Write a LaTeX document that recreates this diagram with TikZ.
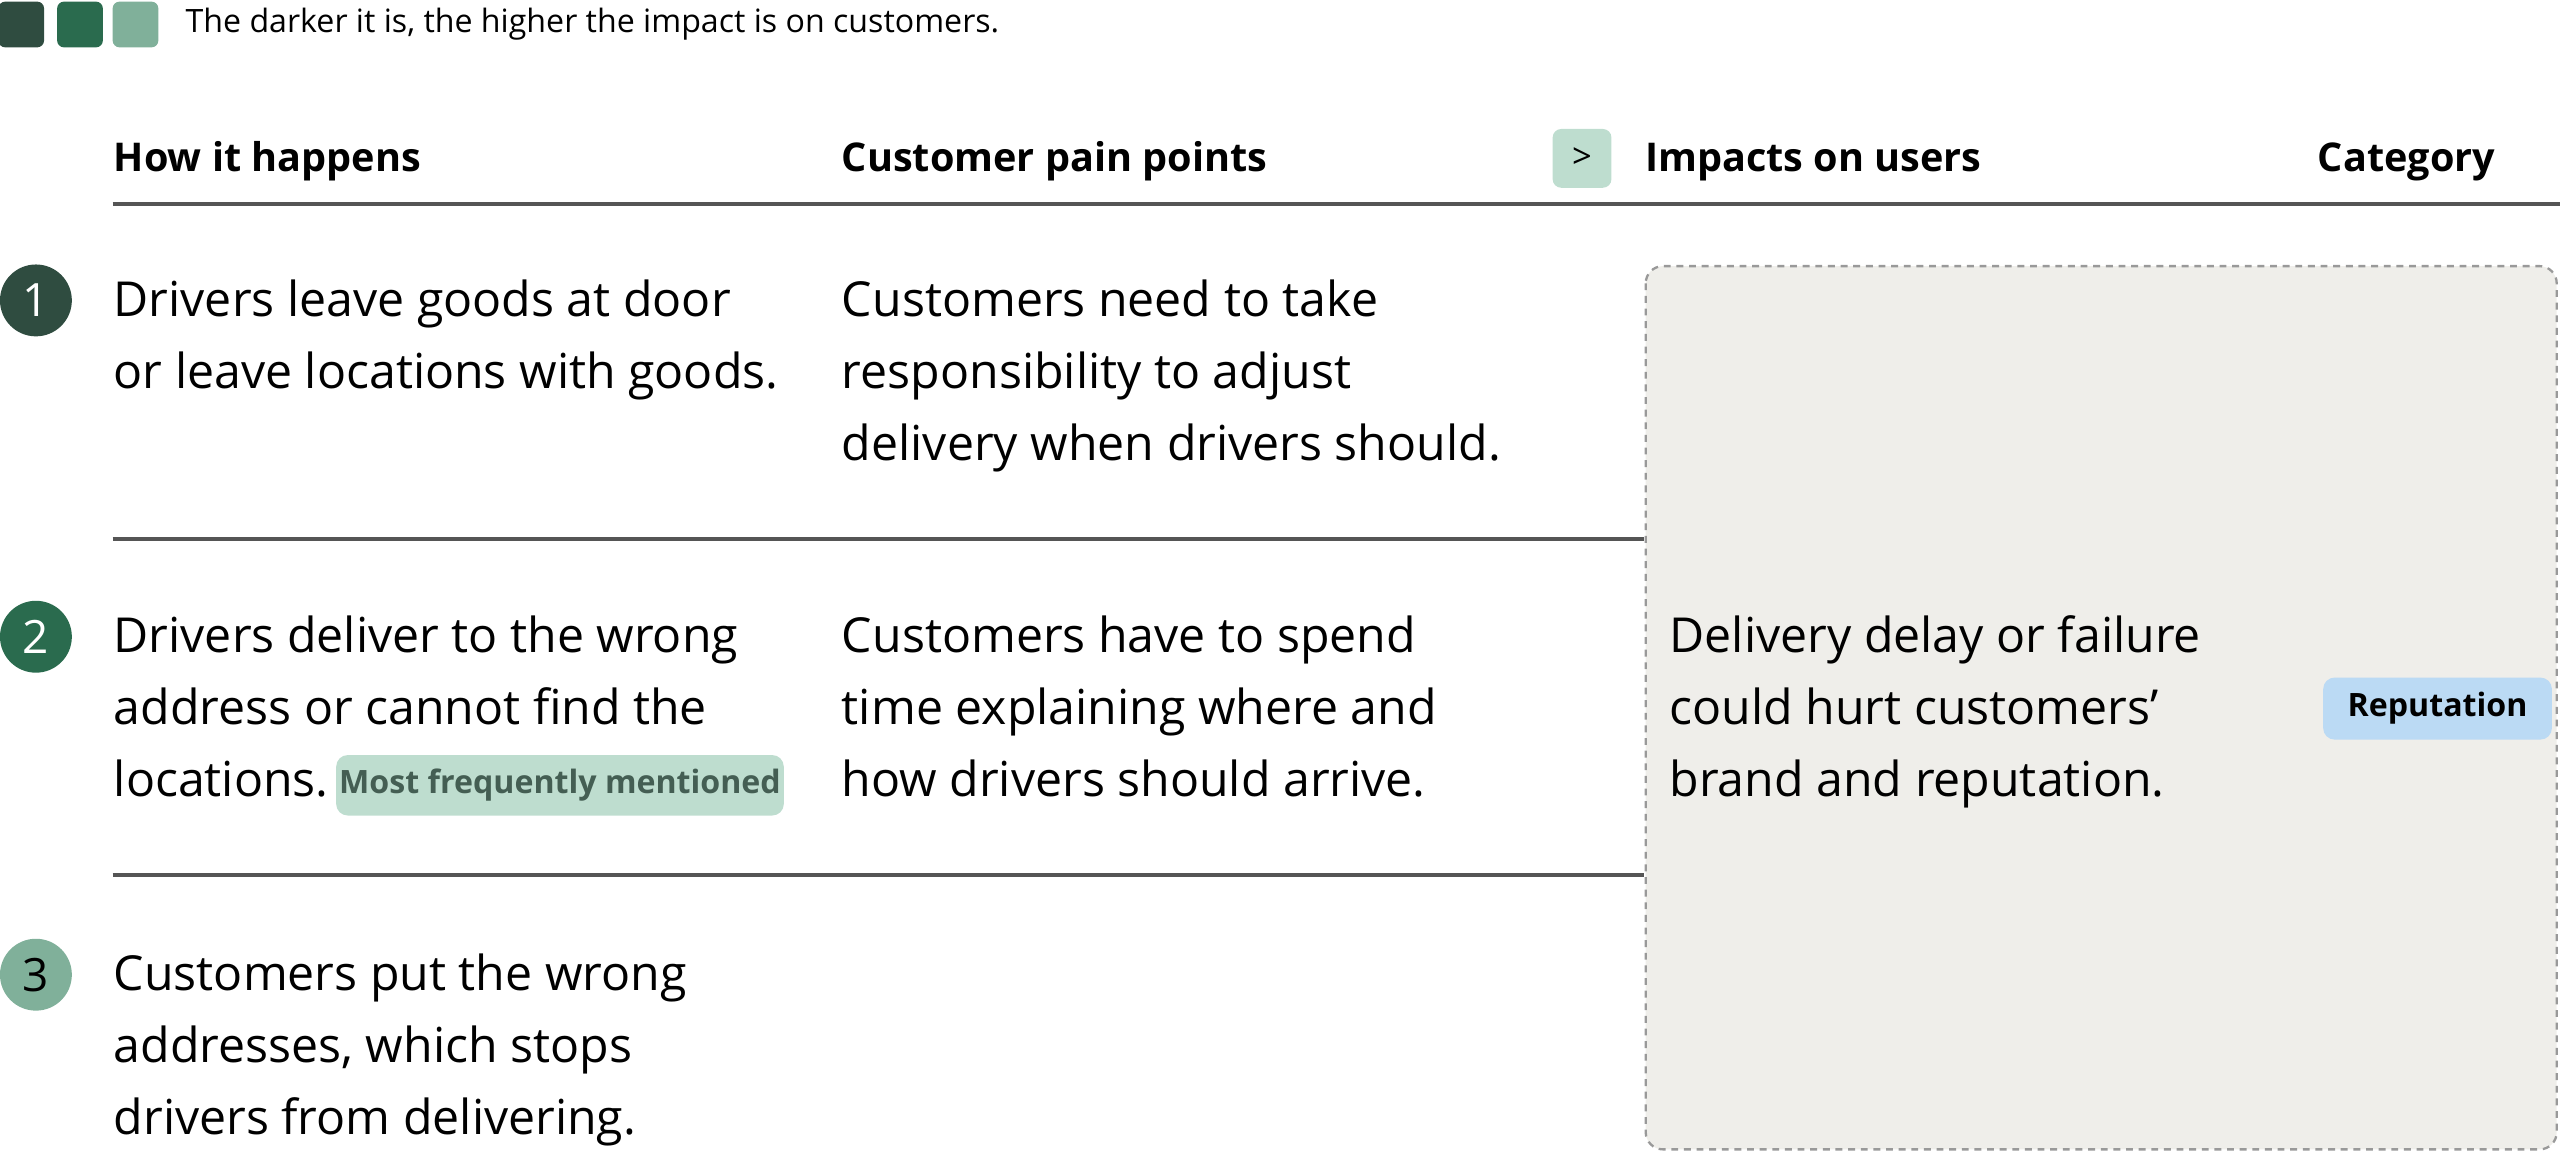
\documentclass[tikz,border=0pt]{standalone}
\usepackage{fontspec}
\setmainfont{Open Sans}
\usetikzlibrary{positioning}
\definecolor{darkone}{HTML}{2F4C40}
\definecolor{darktwo}{HTML}{2A6B4E}
\definecolor{darkthree}{HTML}{80B09A}
\definecolor{tagmint}{HTML}{BEDDCF}
\definecolor{tagblue}{HTML}{BBDAF4}
\definecolor{boxgray}{HTML}{EFEEEA}
\definecolor{rulegray}{HTML}{555555}
\tikzset{
  body/.style={anchor=base west,inner sep=0pt,align=left,font=\fontsize{8.4}{12.55}\selectfont},
  head/.style={anchor=base west,inner sep=0pt,font=\fontsize{6.9}{8}\selectfont\bfseries},
  num/.style={circle,minimum size=0.44cm,inner sep=0pt,text=white,font=\fontsize{8}{8}\selectfont},
  swatch/.style={rounded corners=1.2pt,minimum size=0.28cm,inner sep=0pt},
  rowline/.style={draw=rulegray,line width=0.7pt}
}
\begin{document}
\begin{tikzpicture}[x=0.01cm,y=-0.01cm]
\useasboundingbox (0,0) rectangle (1568,706);
% legend
\node[swatch,fill=darkone] (s1) at (13,15) {};
\node[swatch,fill=darktwo] (s2) at (49,15) {};
\node[swatch,fill=darkthree] (s3) at (83,15) {};
\node[anchor=west,inner sep=0pt,font=\fontsize{5.6}{6}\selectfont] (legend) at (113,15) {The darker it is, the higher the impact is on customers.};
% headers
\node[head] (h1) at (69,105) {How it happens};
\node[head] (h2) at (515,105) {Customer pain points};
\node[fill=tagmint,rounded corners=1.5pt,minimum size=0.36cm,inner sep=0pt,font=\fontsize{6}{7}\selectfont] (icon) at (969,97) {>};
\node[head] (h3) at (1007,105) {Impacts on users};
\node[head] (h4) at (1419,105) {Category};
\coordinate (hl) at (69,125);
\coordinate (hr) at (1568,125);
\draw[rowline] (hl) -- (hr);
% impact box
\draw[fill=boxgray,draw=gray!80,dash pattern=on 1.2pt off 1pt,line width=0.4pt,rounded corners=3pt] (1008,163) rectangle (1566,704);
% numbers
\node[num,fill=darkone] (n1) at (22,184) {1};
\node[num,fill=darktwo] (n2) at (22,390) {2};
\node[num,fill=darkthree,text=black] (n3) at (22,597) {3};
% rows (anchor is the last line's baseline)
\node[body] (r1a) at (69,238) {Drivers leave goods at door\\or leave locations with goods.};
\node[body] (r1b) at (515,282) {Customers need to take\\responsibility to adjust\\delivery when drivers should.};
\node[body] (r2a) at (69,488) {Drivers deliver to the wrong\\address or cannot find the\\locations.};
\node[fill=tagmint,rounded corners=2pt,minimum width=2.74cm,minimum height=0.37cm,inner sep=0pt,text=darkone!90,font=\fontsize{5.6}{6}\selectfont\bfseries] (freq) at (343,481) {Most frequently mentioned};
\node[body] (r2b) at (515,488) {Customers have to spend\\time explaining where and\\how drivers should arrive.};
\node[body] (r3a) at (69,695) {Customers put the wrong\\addresses, which stops\\drivers from delivering.};
\node[body] (imp) at (1022,488) {Delivery delay or failure\\could hurt customers’\\brand and reputation.};
\node[fill=tagblue,rounded corners=2pt,minimum width=1.40cm,minimum height=0.38cm,inner sep=0pt,font=\fontsize{5.6}{6}\selectfont\bfseries] (rep) at (1493,434) {Reputation};
% separators
\draw[rowline] (69,330) -- (1007,330);
\draw[rowline] (69,536) -- (1007,536);
\end{tikzpicture}
\end{document}
